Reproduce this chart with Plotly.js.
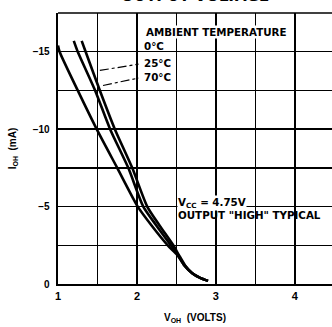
<!DOCTYPE html>
<html>
<head>
<meta charset="utf-8">
<script src="https://cdn.plot.ly/plotly-3.0.1.min.js"></script>
<style>html,body{margin:0;padding:0;background:#fff;}#chart{width:332px;height:327px;}</style>
</head>
<body>
<div id="chart"></div>
<script>
// Output high current vs output voltage
const vOh0  = [1.00, 1.02, 1.25, 1.49, 1.75, 2.01, 2.19, 2.39, 2.51, 2.60, 2.70, 2.80, 2.90];
const iOh0  = [-15.4, -15.0, -12.5, -10.0, -7.5, -5.0, -3.75, -2.5, -1.88, -1.2, -0.7, -0.4, -0.2];
const vOh25 = [1.20, 1.25, 1.47, 1.66, 1.89, 2.08, 2.25, 2.43, 2.52, 2.60, 2.70, 2.80, 2.90];
const iOh25 = [-15.7, -15.0, -12.5, -10.0, -7.5, -5.0, -3.75, -2.5, -1.88, -1.2, -0.7, -0.4, -0.2];
const vOh70 = [1.30, 1.35, 1.53, 1.72, 1.94, 2.13, 2.29, 2.46, 2.53, 2.61, 2.70, 2.80, 2.90];
const iOh70 = [-15.7, -15.0, -12.5, -10.0, -7.5, -5.0, -3.75, -2.5, -1.88, -1.2, -0.7, -0.4, -0.2];

const xTickVals = [1, 1.5, 2, 2.5, 3, 3.5, 4, 4.5];
const xTickText = ['1', '', '2', '', '3', '', '4', ''];
const yTickVals = [0, -2.5, -5, -7.5, -10, -12.5, -15, -17.5];
const yTickText = ['0', '', '\u22125', '', '\u221210', '', '\u221215', ''];

const titleText = 'OUTPUT VOLTAGE';
const legendTitle = 'AMBIENT TEMPERATURE';
const tempLabels = ['0\u00b0C', '25\u00b0C', '70\u00b0C'];
const noteLine1 = 'V<sub>CC</sub> = 4.75V';
const noteLine2 = 'OUTPUT "HIGH" TYPICAL';

const lineStyle = {color: '#000', width: 2.6, shape: 'spline', smoothing: 0.6};
const traces = [
  {x: vOh0, y: iOh0, name: tempLabels[0], mode: 'lines', line: lineStyle},
  {x: vOh25, y: iOh25, name: tempLabels[1], mode: 'lines', line: lineStyle},
  {x: vOh70, y: iOh70, name: tempLabels[2], mode: 'lines', line: lineStyle}
];

const annFont = {family: 'DejaVu Sans', size: 10.3, color: '#000'};
const b = s => '<b>' + s + '</b>';
const layout = {
  width: 332, height: 327,
  margin: {l: 58, r: 0, t: 13, b: 43},
  paper_bgcolor: '#fff', plot_bgcolor: '#fff',
  showlegend: false,
  xaxis: {
    range: [1, 4.47], tickvals: xTickVals, ticktext: xTickText, ticks: '',
    showgrid: true, gridcolor: '#000', gridwidth: 1.4, zeroline: false,
    showline: true, linecolor: '#000', linewidth: 2.4,
    tickfont: {family: 'Liberation Sans', size: 11, color: '#000', weight: 'bold'},
    title: {text: 'V<sub>OH</sub>  (VOLTS)', standoff: 14,
            font: {family: 'Liberation Sans', size: 10, color: '#000', weight: 'bold'}}
  },
  yaxis: {
    range: [0, -17.5], tickvals: yTickVals, ticktext: yTickText, ticks: '',
    showgrid: true, gridcolor: '#000', gridwidth: 1.4, zeroline: false,
    showline: true, linecolor: '#000', linewidth: 2.4, ticklabelstandoff: 4,
    tickfont: {family: 'Liberation Sans', size: 10, color: '#000', weight: 'bold'},
    title: {text: 'I<sub>OH</sub>  (mA)', standoff: 14,
            font: {family: 'Liberation Sans', size: 10, color: '#000', weight: 'bold'}}
  },
  shapes: [
    {type: 'line', xref: 'paper', yref: 'paper', x0: 0, x1: 1, y0: 1, y1: 1, line: {color: '#000', width: 1.6}},
    {type: 'line', xref: 'x', yref: 'y', x0: 1.53, y0: -13.79, x1: 2.02, y1: -14.2, line: {color: '#000', width: 1.2, dash: 'dashdot'}},
    {type: 'line', xref: 'x', yref: 'y', x0: 1.57, y0: -12.82, x1: 2.02, y1: -13.3, line: {color: '#000', width: 1.2, dash: 'dashdot'}}
  ],
  annotations: [
    {x: 0.5, y: 1, xref: 'paper', yref: 'paper', text: titleText, showarrow: false, xanchor: 'center', yanchor: 'bottom', yshift: 6,
     font: {family: 'DejaVu Sans', size: 15, color: '#000', weight: 'bold'}},
    {x: 2.10, y: -16.25, xref: 'x', yref: 'y', text: b(legendTitle), showarrow: false, xanchor: 'left', yanchor: 'middle', font: annFont, bgcolor: '#fff', borderpad: 0},
    {x: 2.06, y: -15.34, xref: 'x', yref: 'y', text: b(tempLabels[0]), showarrow: false, xanchor: 'left', yanchor: 'middle', font: annFont},
    {x: 2.06, y: -14.24, xref: 'x', yref: 'y', text: b(tempLabels[1]), showarrow: false, xanchor: 'left', yanchor: 'middle', font: annFont},
    {x: 2.06, y: -13.37, xref: 'x', yref: 'y', text: b(tempLabels[2]), showarrow: false, xanchor: 'left', yanchor: 'middle', font: annFont},
    {x: 2.51, y: -5.25, xref: 'x', yref: 'y', text: b(noteLine1), showarrow: false, xanchor: 'left', yanchor: 'middle', font: annFont, bgcolor: '#fff', borderpad: 0},
    {x: 2.51, y: -4.45, xref: 'x', yref: 'y', text: b(noteLine2), showarrow: false, xanchor: 'left', yanchor: 'middle', font: annFont, borderpad: 0}
  ]
};

Plotly.newPlot('chart', traces, layout, {staticPlot: true, displayModeBar: false});
</script>
</body>
</html>
